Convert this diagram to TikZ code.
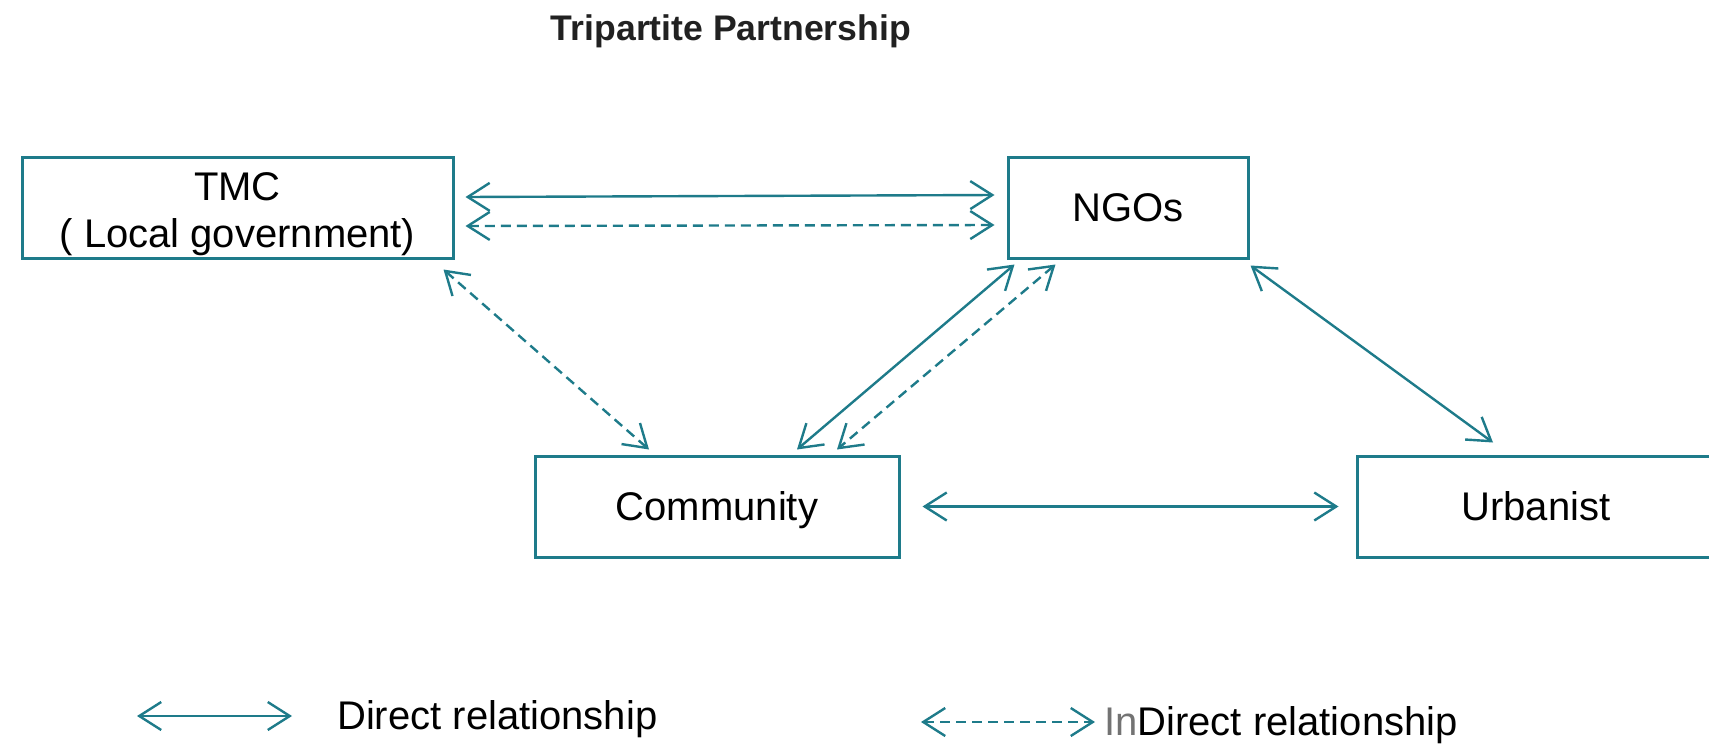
\documentclass[tikz,border=0pt]{standalone}
\usepackage{fontspec}
\setmainfont{Liberation Sans}
\usetikzlibrary{arrows.meta,calc}
\definecolor{tealc}{HTML}{1E7B8A}
\begin{document}
\begin{tikzpicture}[x=1pt,y=-1pt,
  box/.style={draw=tealc, line width=3pt, minimum width=#1, minimum height=101pt,
    inner sep=0pt, font=\fontsize{40}{47}\selectfont, align=center},
  oneline/.style={text height=28.6pt, text depth=0pt},
  rel/.style={draw=tealc, line width=2.4pt,
    {Straight Barb[length=22pt,width=28pt]}-{Straight Barb[length=22pt,width=28pt]}},
  direct/.style={rel},
  indirect/.style={rel, dash pattern=on 10pt off 6pt},
  legtext/.style={anchor=west, inner sep=0pt, font=\fontsize{40}{48}\selectfont}]
\useasboundingbox (0,0) rectangle (1709,745);
\node[font=\bfseries\fontsize{35.6}{42}\selectfont, text=black!87] (title) at (731,31) {Tripartite Partnership};
\node[box=431pt] (tmc) at (237.5,207.5) {\rule{0pt}{42pt}TMC\\( Local government)};
\node[box=240pt, oneline] (ngo) at (1128,207.5) {NGOs};
\node[box=364pt, oneline] (com) at (717,506.5) {Community};
\node[box=358pt, oneline] (urb) at (1536,506.5) {Urbanist};
\draw[direct] ($(tmc.east)+(11,-10.5)$) -- ($(ngo.west)+(-12,-12.5)$);
\draw[indirect] ($(tmc.east)+(11,18.5)$) -- ($(ngo.west)+(-12,17.5)$);
\draw[indirect] ($(tmc.south east)+(-11,10)$) -- ($(com.north)+(-68,-5)$);
\draw[direct] ($(ngo.south west)+(8,5)$) -- ($(com.north)+(80,-5)$);
\draw[indirect] ($(ngo.south west)+(49,5)$) -- ($(com.north)+(120,-5)$);
\draw[direct] ($(ngo.south east)+(1,6)$) -- ($(urb.north)+(-43,-12)$);
\draw[direct] ($(com.east)+(22,0)$) -- ($(urb.west)+(-17,0)$);
\coordinate (l1a) at (137,716);
\coordinate (l1b) at (292,716);
\draw[direct] (l1a) -- (l1b);
\node[legtext] (l1t) at (337,719) {Direct relationship};
\coordinate (l2a) at (921,722);
\coordinate (l2b) at (1095,722);
\draw[indirect] (l2a) -- (l2b);
\node[legtext] (l2t) at (1104,725) {\textcolor{black!55}{In}Direct relationship};
\end{tikzpicture}
\end{document}
